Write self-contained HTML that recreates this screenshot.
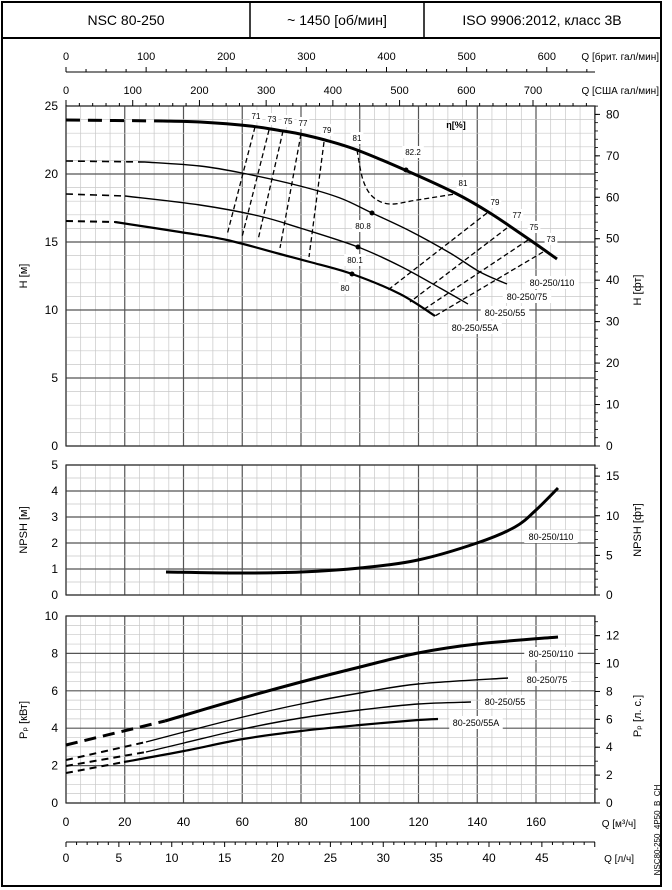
<!DOCTYPE html>
<html><head><meta charset="utf-8"><style>
body{margin:0;background:#fff}
svg{display:block;font-family:"Liberation Sans",sans-serif}
</style></head><body>
<svg id="s" width="672" height="890" viewBox="0 0 672 890" xmlns="http://www.w3.org/2000/svg">
<rect x="2" y="2" width="659" height="884" fill="none" stroke="#000" stroke-width="2"/>
<line x1="2" y1="38" x2="661" y2="38" stroke="#000" stroke-width="2"/>
<line x1="250" y1="2" x2="250" y2="38" stroke="#000" stroke-width="1.5"/>
<line x1="424" y1="2" x2="424" y2="38" stroke="#000" stroke-width="1.5"/>
<text x="126" y="25" font-size="14" text-anchor="middle">NSC 80-250</text>
<text x="337" y="25" font-size="14" text-anchor="middle">~ 1450 [об/мин]</text>
<text x="542" y="25" font-size="14" text-anchor="middle">ISO 9906:2012, класс 3B</text>
<g id="g"></g>
</svg>
<script>
const NS="http://www.w3.org/2000/svg",G=document.getElementById('g');
function el(t,a,txt){const e=document.createElementNS(NS,t);for(const k in a)e.setAttribute(k,a[k]);if(txt!==undefined)e.textContent=txt;G.appendChild(e);return e;}
function ln(x1,y1,x2,y2,c,w,d){const a={x1,y1,x2,y2,stroke:c,'stroke-width':w};if(d)a['stroke-dasharray']=d;el('line',a);}
function tx(x,y,s,sz,anc,extra){const a={x,y,'font-size':sz||12,'text-anchor':anc||'middle'};Object.assign(a,extra||{});return el('text',a,s);}
const X0=66,X1=595,xq=q=>X0+q*2.9375;
function panel(yt,yb,nMajor,minorPer){
 for(let q=0;q<=180;q+=5){ln(xq(q),yt,xq(q),yb,q%20==0?'#555':'#c8c8c8',q%20==0?1.2:0.7);}
 const n=nMajor*minorPer;
 for(let i=0;i<=n;i++){const y=yb-(yb-yt)*i/n;ln(X0,y,X1,y,i%minorPer==0?'#555':'#c8c8c8',i%minorPer==0?1.2:0.7);}
 el('rect',{x:X0,y:yt,width:X1-X0,height:yb-yt,fill:'none',stroke:'#333','stroke-width':1.2});
}
panel(106,446,5,5);
for(let h=0;h<=25;h+=5)tx(58,446-h*13.6+4,h,12,'end');
for(let f=0;f<=80;f+=10){const y=446-f*0.3048*13.6;tx(606,y+4,f,12,'start');ln(X1,y,X1+5,y,'#000',1);}
for(let f=0;f<=82;f+=2){const y=446-f*0.3048*13.6;ln(X1,y,X1+3,y,'#000',0.8);}
tx(0,0,'H [м]',11,'middle',{transform:'translate(27,276) rotate(-90)'});
tx(0,0,'H [фт]',11,'middle',{transform:'translate(641,290) rotate(-90)'});
ln(X0,72,X1,72,'#000',1);
for(let g=0;g<=650;g+=25){const x=X0+g/3.666*2.9375;if(x<=X1)ln(x,72,x,g%100==0?67:69,'#000',1);}
for(let g=0;g<=600;g+=100)tx(X0+g/3.666*2.9375,60,g,11);
tx(659,60,'Q [брит. гал/мин]',10,'end');
for(let g=0;g<=780;g+=20){const x=X0+g/4.403*2.9375;if(x<=X1)ln(x,106,x,g%100==0?100:103,'#000',1);}
for(let g=0;g<=700;g+=100)tx(X0+g/4.403*2.9375,94,g,11);
tx(659,94,'Q [США гал/мин]',10,'end');
panel(465,595,5,2);
for(let h=0;h<=5;h++)tx(58,595-h*26+4,h,12,'end');
for(let f=0;f<=15;f+=5){const y=595-f*0.3048*26;tx(606,y+4,f,12,'start');ln(X1,y,X1+5,y,'#000',1);}
for(let f=0;f<=16;f++){const y=595-f*0.3048*26;ln(X1,y,X1+3,y,'#000',0.8);}
tx(0,0,'NPSH [м]',11,'middle',{transform:'translate(27,530) rotate(-90)'});
tx(0,0,'NPSH [фт]',11,'middle',{transform:'translate(641,530) rotate(-90)'});
panel(616,803,5,4);
for(let p=0;p<=10;p+=2)tx(58,803-p*18.7+4,p,12,'end');
for(let hp=0;hp<=12;hp+=2){const y=803-hp*0.7457*18.7;tx(606,y+4,hp,12,'start');ln(X1,y,X1+5,y,'#000',1);}
for(let hp=0;hp<=13;hp++){const y=803-hp*0.7457*18.7;ln(X1,y,X1+3,y,'#000',0.8);}
tx(0,0,'Pₚ [кВт]',11,'middle',{transform:'translate(27,720) rotate(-90)'});
tx(0,0,'Pₚ [л. с.]',11,'middle',{transform:'translate(641,716) rotate(-90)'});
for(let q=0;q<=160;q+=20)tx(xq(q),826,q,12);
tx(636,827,'Q [м³/ч]',10,'end');
ln(X0,842,X1,842,'#000',1);
for(let l=0;l<=50;l++){const x=X0+l*3.6*2.9375;if(x<=X1+0.5)ln(x,842,x,l%5==0?847:845,'#000',1);}
for(let l=0;l<=45;l+=5)tx(X0+l*3.6*2.9375,862,l,12);
tx(634,862,'Q [л/ч]',10,'end');
tx(0,0,'NSC80-250_4P50_B_CH',8,'middle',{transform:'translate(660,830) rotate(-90)'});
function crv(pts,w,d){let s='M'+pts[0];for(let i=1;i<pts.length;i++){const p0=pts[i-2]||pts[i-1],p1=pts[i-1],p2=pts[i],p3=pts[i+1]||p2;const c1=[p1[0]+(p2[0]-p0[0])/6,p1[1]+(p2[1]-p0[1])/6],c2=[p2[0]-(p3[0]-p1[0])/6,p2[1]-(p3[1]-p1[1])/6];s+=' C'+c1+' '+c2+' '+p2;}el('path',{d:s,fill:'none',stroke:'#000','stroke-width':w,'stroke-dasharray':d||'none'});}
crv([[66,120],[163,121]],3,'14,8');
crv([[163,121],[200,122],[250,126],[283,131],[300,134],[325,140],[357,150],[405,170],[455,193],[490,213],[530,240],[557,259]],3);
crv([[66,161],[145,162]],1.6,'7,5');
crv([[145,162],[200,166],[242,173],[300,186],[340,198],[372,213],[410,231],[450,253],[480,272],[507,284]],1.4);
crv([[66,194],[125,196]],1.6,'7,5');
crv([[125,196],[200,205],[259,216],[300,228],[358,247],[400,266],[440,288],[468,304]],1.4);
crv([[66,221],[115,222]],2,'7,5');
crv([[115,222],[180,232],[227,240],[280,254],[310,262],[352,274],[400,294],[435,316]],2.2);
[[255,127,227,235],[269,130,242,237],[283,131,258,240],[301,134,280,248],[324,142,309,257],[487,213,388,290],[507,228,410,302],[528,240,423,310],[543,252,435,316]].forEach(a=>ln(a[0],a[1],a[2],a[3],'#000',1.3,'5,3'));
crv([[357,150],[363,180],[373,197],[390,204],[417,200],[455,194]],1.3,'5,3');
[[406,170],[372,213],[358,247],[352,274]].forEach(p=>el('circle',{cx:p[0],cy:p[1],r:2.5,fill:'#000'}));
function lb(x,y,s,sz){const w=s.length*(sz||8)*0.55+4;el('rect',{x:x-w/2,y:y-(sz||8)-1,width:w,height:(sz||8)+4,fill:'#fff'});tx(x,y,s,sz||8,'middle');}
[[256,119,'71'],[272,122,'73'],[288,124,'75'],[303,126,'77'],[327,133,'79'],[357,141,'81'],[413,155,'82.2'],[463,186,'81'],[495,205,'79'],[517,218,'77'],[534,230,'75'],[551,242,'73'],[363,229,'80.8'],[355,263,'80.1'],[345,291,'80']].forEach(a=>lb(a[0],a[1],a[2],8));
tx(456,128,'η[%]',9,'middle',{'font-weight':'bold'});
lb(552,286,'80-250/110',9);lb(527,300,'80-250/75',9);lb(505,316,'80-250/55',9);lb(475,331,'80-250/55A',9);
crv([[166,572],[240,573],[301,572],[360,568],[418,560],[477,543],[515,527],[536,510],[558,488]],3);
lb(551,540,'80-250/110',9);
crv([[66,745],[165,721]],3,'12,7');
crv([[165,721],[243,698],[301,682],[360,667],[418,653],[477,644],[558,637]],3);
crv([[66,760],[146,742]],2,'7,5');
crv([[146,742],[184,732],[243,717],[301,704],[360,693],[418,684],[508,678]],1.4);
crv([[66,766],[146,752]],2,'7,5');
crv([[146,752],[184,743],[243,729],[301,718],[360,710],[418,704],[471,702]],1.4);
crv([[66,773],[124,762]],2,'7,5');
crv([[124,762],[184,751],[243,739],[301,731],[360,725],[418,720],[438,719]],2.2);
lb(551,657,'80-250/110',9);lb(547,683,'80-250/75',9);lb(505,705,'80-250/55',9);lb(476,726,'80-250/55A',9);
</script>
</body></html>
